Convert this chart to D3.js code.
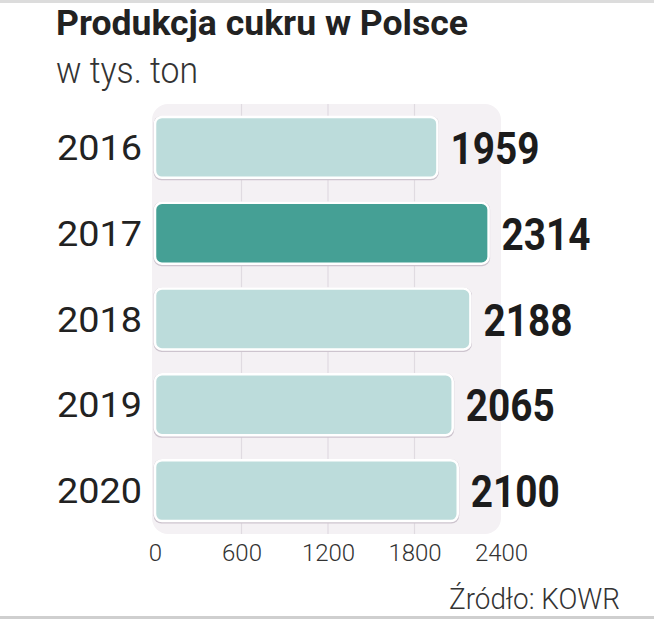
<!DOCTYPE html>
<html>
<head>
<meta charset="utf-8">
<script src="https://cdn.jsdelivr.net/npm/d3@7"></script>
<style>
html,body{margin:0;padding:0;background:#fff;}
svg{display:block;}
</style>
</head>
<body>
<svg id="chart" width="654" height="619"></svg>
<script>
const years = ["2016", "2017", "2018", "2019", "2020"];
const values = [1959, 2314, 2188, 2065, 2100];
const highlight = ["2017"];
const ticks = [0, 600, 1200, 1800, 2400];
const title = "Produkcja cukru w Polsce";
const subtitle = "w tys. ton";
const source = "Źródło: KOWR";

const svg = d3.select("#chart");
const W = 654, H = 619;

// frame bands
svg.append("rect").attr("x",0).attr("y",0).attr("width",W).attr("height",3).attr("fill","#dcdcdc");
svg.append("rect").attr("x",0).attr("y",616).attr("width",W).attr("height",3).attr("fill","#cfcfcf");

const x = d3.scaleLinear().domain([0, 2400]).range([155, 501]);
const y = d3.scaleBand().domain(years).range([92, 546]).paddingInner(0.29).paddingOuter(0.29);

// plot background
svg.append("rect")
  .attr("x", x(0) - 3).attr("y", 104)
  .attr("width", x(2400) - x(0) + 3).attr("height", 430)
  .attr("rx", 16).attr("fill", "#f4f1f4");

// gridlines
svg.append("g").selectAll("line")
  .data(ticks.filter(t => t > 0 && t < 2400))
  .join("line")
  .attr("x1", d => x(d)).attr("x2", d => x(d))
  .attr("y1", 104).attr("y2", 534)
  .attr("stroke", "#e0dbe1").attr("stroke-width", 1.2);

// title
svg.append("text").attr("x", 56).attr("y", 35)
  .attr("font-family", "Roboto, sans-serif").attr("font-weight", 700)
  .attr("font-size", 35).attr("fill", "#222")
  .attr("textLength", 412).attr("lengthAdjust", "spacingAndGlyphs")
  .text(title);
svg.append("text").attr("x", 56).attr("y", 83)
  .attr("font-family", "Roboto, sans-serif").attr("font-weight", 300)
  .attr("font-size", 37).attr("fill", "#333")
  .attr("textLength", 142).attr("lengthAdjust", "spacingAndGlyphs")
  .text(subtitle);

const data = years.map((yr, i) => ({year: yr, value: values[i]}));

// bar shadows
svg.append("g").selectAll("rect")
  .data(data).join("rect")
  .attr("x", d => x(0) - 1.5)
  .attr("y", d => y(d.year) - 1)
  .attr("width", d => x(d.value) - x(0) + 3)
  .attr("height", y.bandwidth() + 3.5)
  .attr("rx", 8)
  .attr("fill", "#cdc4ce");

// bars
svg.append("g").selectAll("rect")
  .data(data).join("rect")
  .attr("x", d => x(0))
  .attr("y", d => y(d.year))
  .attr("width", d => x(d.value) - x(0))
  .attr("height", y.bandwidth())
  .attr("rx", 7)
  .attr("fill", d => highlight.includes(d.year) ? "#45a095" : "#bcdcdb")
  .attr("stroke", "#ffffff").attr("stroke-width", 2.5);

// year labels
svg.append("g").selectAll("text")
  .data(data).join("text")
  .attr("x", 142)
  .attr("y", d => y(d.year) + y.bandwidth() / 2 + 12.5)
  .attr("text-anchor", "end")
  .attr("font-family", "Roboto, sans-serif").attr("font-weight", 400)
  .attr("font-size", 35).attr("fill", "#222")
  .attr("textLength", 85).attr("lengthAdjust", "spacingAndGlyphs")
  .text(d => d.year);

// value labels
svg.append("g").selectAll("text")
  .data(data).join("text")
  .attr("x", d => x(d.value) + 13)
  .attr("y", d => y(d.year) + y.bandwidth() / 2 + 16.5)
  .attr("font-family", "Roboto, sans-serif").attr("font-weight", 700)
  .attr("font-size", 45).attr("fill", "#1c1c1c")
  .attr("textLength", 89).attr("lengthAdjust", "spacingAndGlyphs")
  .text(d => d.value);

// axis
const axis = d3.axisBottom(x).tickValues(ticks).tickSize(0).tickPadding(0).tickFormat(d3.format("d"));
const ag = svg.append("g").attr("transform", "translate(0,542)").call(axis);
ag.select(".domain").remove();
ag.selectAll("text")
  .attr("font-family", "Roboto, sans-serif").attr("font-weight", 300)
  .attr("font-size", 24).attr("fill", "#333")
  .attr("dy", "0.8em");

// source
svg.append("text").attr("x", 620).attr("y", 609)
  .attr("text-anchor", "end")
  .attr("font-family", "Roboto, sans-serif").attr("font-weight", 300)
  .attr("font-size", 30).attr("fill", "#333")
  .attr("textLength", 171).attr("lengthAdjust", "spacingAndGlyphs")
  .text(source);
</script>
</body>
</html>
